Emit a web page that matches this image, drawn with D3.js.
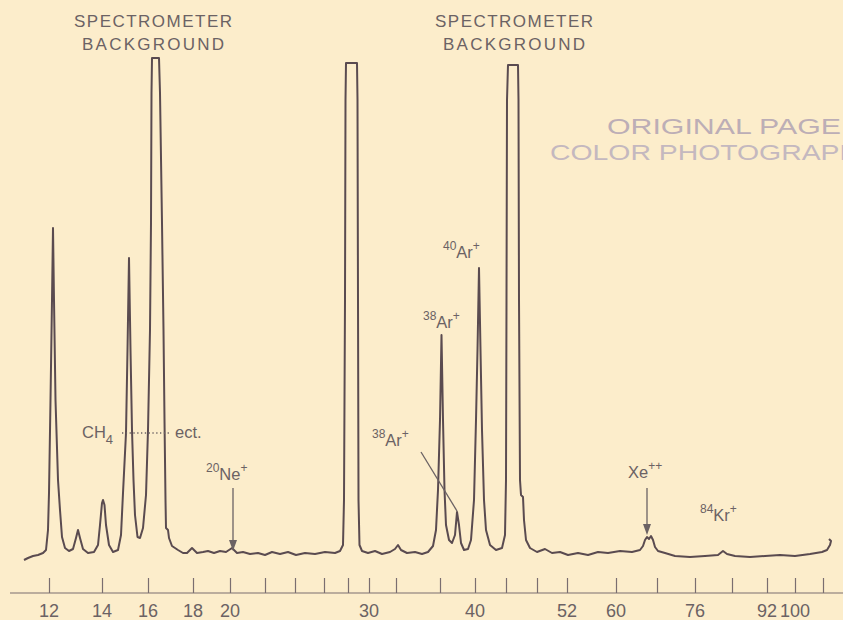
<!DOCTYPE html>
<html><head><meta charset="utf-8">
<script src="https://cdn.jsdelivr.net/npm/d3@7/dist/d3.min.js"></script>
<style>
html,body{margin:0;padding:0;background:#fcedcb;}
svg{display:block;}
text{font-family:"Liberation Sans",Arial,sans-serif;fill:#6b6264;}
</style></head>
<body>
<script>
// ---- DATA ----
// scan position (chart units) and relative detector signal (0-100, off-scale peaks clipped at ~100)
const scanPos = [7,9,11.5,14,16.5,18,19,19.5,20.25,21,21.5,22,22.75,24,25,26,27.5,29.5,31.5,33,34,35,36.5,39,42,44,45,46,46.5,47.25,48,49.5,51.5,54,55.5,56.5,58,58.75,59.5,60.25,61,61.75,62.5,63.75,65,66.5,68,69,70,70.5,70.75,71,74.5,75,76,76.75,77.25,77.75,78,79,79.5,81,84,86.5,88.5,91,93.5,96.5,99,102,105,108,111,113.5,116.5,120,124,127.5,131,135,139,143,147.5,152.5,157.5,162.5,165,166.5,167,167.5,167.75,168,173.5,173.75,174,174.25,174.75,176,179,182.5,186,190,192.5,194,195.5,198.5,202.5,206,209,211.5,213,214,215,215.75,216.5,217.25,218,219.5,221,222.5,223.5,224.5,225.5,227,229,230.5,232,233,233.75,234.5,235.25,236,237,238,240,243,246,247.5,248,248.25,248.5,249,254,254.25,254.5,255,255.5,256.5,257,258,260,263.5,267.5,271,275,279,284,289,294,299,305,311,315,316.5,317.5,318.5,319.5,320.5,321.5,322.5,324,327.5,332.5,340,347.5,354,356.5,358.5,362.5,370,377.5,385,392.5,400,406,408.5,410,410.5,409.5];
const signal = [-0.6,-0.2,0.2,0.4,0.8,1.4,5.4,12.8,31.4,51.4,65.8,51.4,31.4,15.4,9.4,4,1.8,1.2,1.6,3.8,5.4,3.8,1.6,0.8,1,2.4,6.4,10.8,11.4,10.4,6.4,2.4,1,1.4,4.4,12.8,24.8,41.4,59.8,41.4,25.4,15.4,8.4,4,3.8,5.8,12.4,25.4,45.4,66.8,92.8,99.8,99.8,92.8,66.8,45.4,27.4,11.4,5.8,5.4,3.8,2.2,1.4,0.8,0.8,1.8,0.8,1,1.2,0.8,1.2,1,1.8,0.8,1,0.6,0.8,0.4,1,0.6,1,0.4,0.8,0.6,1,0.8,1.2,2.4,11.4,51.4,91.4,98.8,98.8,91.4,51.4,11.4,2.4,1.2,0.8,1.2,0.6,1,1.6,2.4,1.4,0.8,1,0.6,1,2.2,5.4,13.4,27.4,44.4,27.4,13.4,6.4,3.4,2.8,4.4,9,6.4,2.8,1.4,1.6,3.4,11.4,27.4,41.4,57.8,41.4,25.4,11.4,5.4,2.4,1.4,1.8,4.4,15.4,51.4,91.4,98.4,98.4,91.4,51.4,15.4,12.4,12,7.4,3.4,1.8,1,1.6,0.8,1,0.4,0.8,0.4,1,0.8,1.2,1,1.4,2.2,3.4,4,3.6,4.2,3.4,2,1.2,0.8,0.2,0,0.2,0.4,1.2,0.6,0.2,0,0.2,0.4,0.2,0.6,1,1.4,2.4,3.2,3.6];
const tickPos = [19.5,46,69,91.5,110,127.5,142.5,157,169,179.5,193,215,232.5,248,263.5,278.5,303,323.5,342.5,361,378.5,392.5,406.5];
const tickLabels = ["12","14","16","18","20","","","","","30","","","40","","","52","60","","76","","92","100",""];

const W = 843, H = 620;
const svg = d3.select("body").append("svg").attr("width", W).attr("height", H);

const x = d3.scaleLinear().domain([0, 415]).range([10, 840]);
const y = d3.scaleLinear().domain([0, 100]).range([557, 57]);

// stamp
svg.append("text").attr("x", 607).attr("y", 134).attr("font-size", 22).attr("textLength", 234)
  .attr("lengthAdjust", "spacingAndGlyphs").style("fill", "#bcaeb6").text("ORIGINAL PAGE");
svg.append("text").attr("x", 550).attr("y", 159.5).attr("font-size", 22).attr("textLength", 310)
  .attr("lengthAdjust", "spacingAndGlyphs").style("fill", "#c4b8bf").text("COLOR PHOTOGRAPH");

// axis
const axisY = 593;
const axis = d3.axisTop(x).tickValues(tickPos).tickSize(15).tickFormat("");
const ax = svg.append("g").attr("transform", `translate(0,${axisY})`).call(axis);
ax.select(".domain").attr("d", `M${x(0)},0H${W}`).attr("stroke", "#7a6e70").attr("stroke-width", 1.2);
ax.selectAll(".tick line").attr("stroke", "#7a6e70").attr("stroke-width", 1.2);
svg.append("g").selectAll("text").data(tickPos.map((p, i) => ({p, l: tickLabels[i]})).filter(d => d.l))
  .join("text").attr("x", d => x(d.p)).attr("y", 617).attr("text-anchor", "middle")
  .attr("font-size", 18).text(d => d.l);

// trace
const pts = scanPos.map((s, i) => [s, signal[i]]);
const line = d3.line().x(d => x(d[0])).y(d => y(d[1])).curve(d3.curveLinear);
svg.append("path").attr("d", line(pts)).attr("fill", "none").attr("stroke", "#5a4b50")
  .attr("stroke-width", 2).attr("stroke-linejoin", "round");

// headings
function heading(cx) {
  svg.append("text").attr("x", cx).attr("y", 27).attr("text-anchor", "middle").attr("font-size", 17)
    .attr("textLength", 158).attr("lengthAdjust", "spacing").text("SPECTROMETER");
  svg.append("text").attr("x", cx).attr("y", 50).attr("text-anchor", "middle").attr("font-size", 17)
    .attr("textLength", 142).attr("lengthAdjust", "spacing").text("BACKGROUND");
}
heading(153); heading(514);

// labels helper: superscript/subscript composite
function label(xp, yb, parts) {
  const t = svg.append("text").attr("x", xp).attr("y", yb).attr("font-size", 16.5);
  parts.forEach(p => {
    const ts = t.append("tspan").text(p.t);
    if (p.s === "sup") ts.attr("font-size", 12).attr("dy", -8);
    if (p.s === "sub") ts.attr("font-size", 13).attr("dy", 6);
    if (p.s === "back") ts.attr("dy", p.dy);
  });
  return t;
}
// CH4 ... ect.
label(82, 438, [{t:"CH"}, {t:"4", s:"sub"}]);
svg.append("line").attr("x1", 122).attr("x2", 171).attr("y1", 433).attr("y2", 433)
  .attr("stroke", "#6b6264").attr("stroke-width", 1.3).attr("stroke-dasharray", "1.3,2.5");
svg.append("text").attr("x", 175).attr("y", 438).attr("font-size", 16.5).text("ect.");

// ion labels
label(206, 480, [{t:"20", s:"sup"}, {t:"Ne", s:"back", dy: 8}, {t:"+", s:"sup"}]);
label(372, 446, [{t:"38", s:"sup"}, {t:"Ar", s:"back", dy: 8}, {t:"+", s:"sup"}]);
label(423, 328, [{t:"38", s:"sup"}, {t:"Ar", s:"back", dy: 8}, {t:"+", s:"sup"}]);
label(443, 258, [{t:"40", s:"sup"}, {t:"Ar", s:"back", dy: 8}, {t:"+", s:"sup"}]);
label(628, 478, [{t:"Xe"}, {t:"++", s:"sup"}]);
label(700, 521, [{t:"84", s:"sup"}, {t:"Kr", s:"back", dy: 8}, {t:"+", s:"sup"}]);

// pointer lines / arrows
const ink = "#6b6264";
function arrow(x0, y0, x1, y1) {
  svg.append("line").attr("x1", x0).attr("y1", y0).attr("x2", x1).attr("y2", y1 - 8)
    .attr("stroke", ink).attr("stroke-width", 1.3);
  svg.append("path").attr("d", `M${x1 - 4},${y1 - 11}L${x1 + 4},${y1 - 11}L${x1},${y1}Z`).attr("fill", ink);
}
arrow(x(111.5), 488, x(111.5), 551);
arrow(x(318.5), 488, x(318.5), 535);
svg.append("line").attr("x1", 421).attr("y1", 452).attr("x2", x(223.5)).attr("y2", 511)
  .attr("stroke", ink).attr("stroke-width", 1.3);
</script>
</body></html>
